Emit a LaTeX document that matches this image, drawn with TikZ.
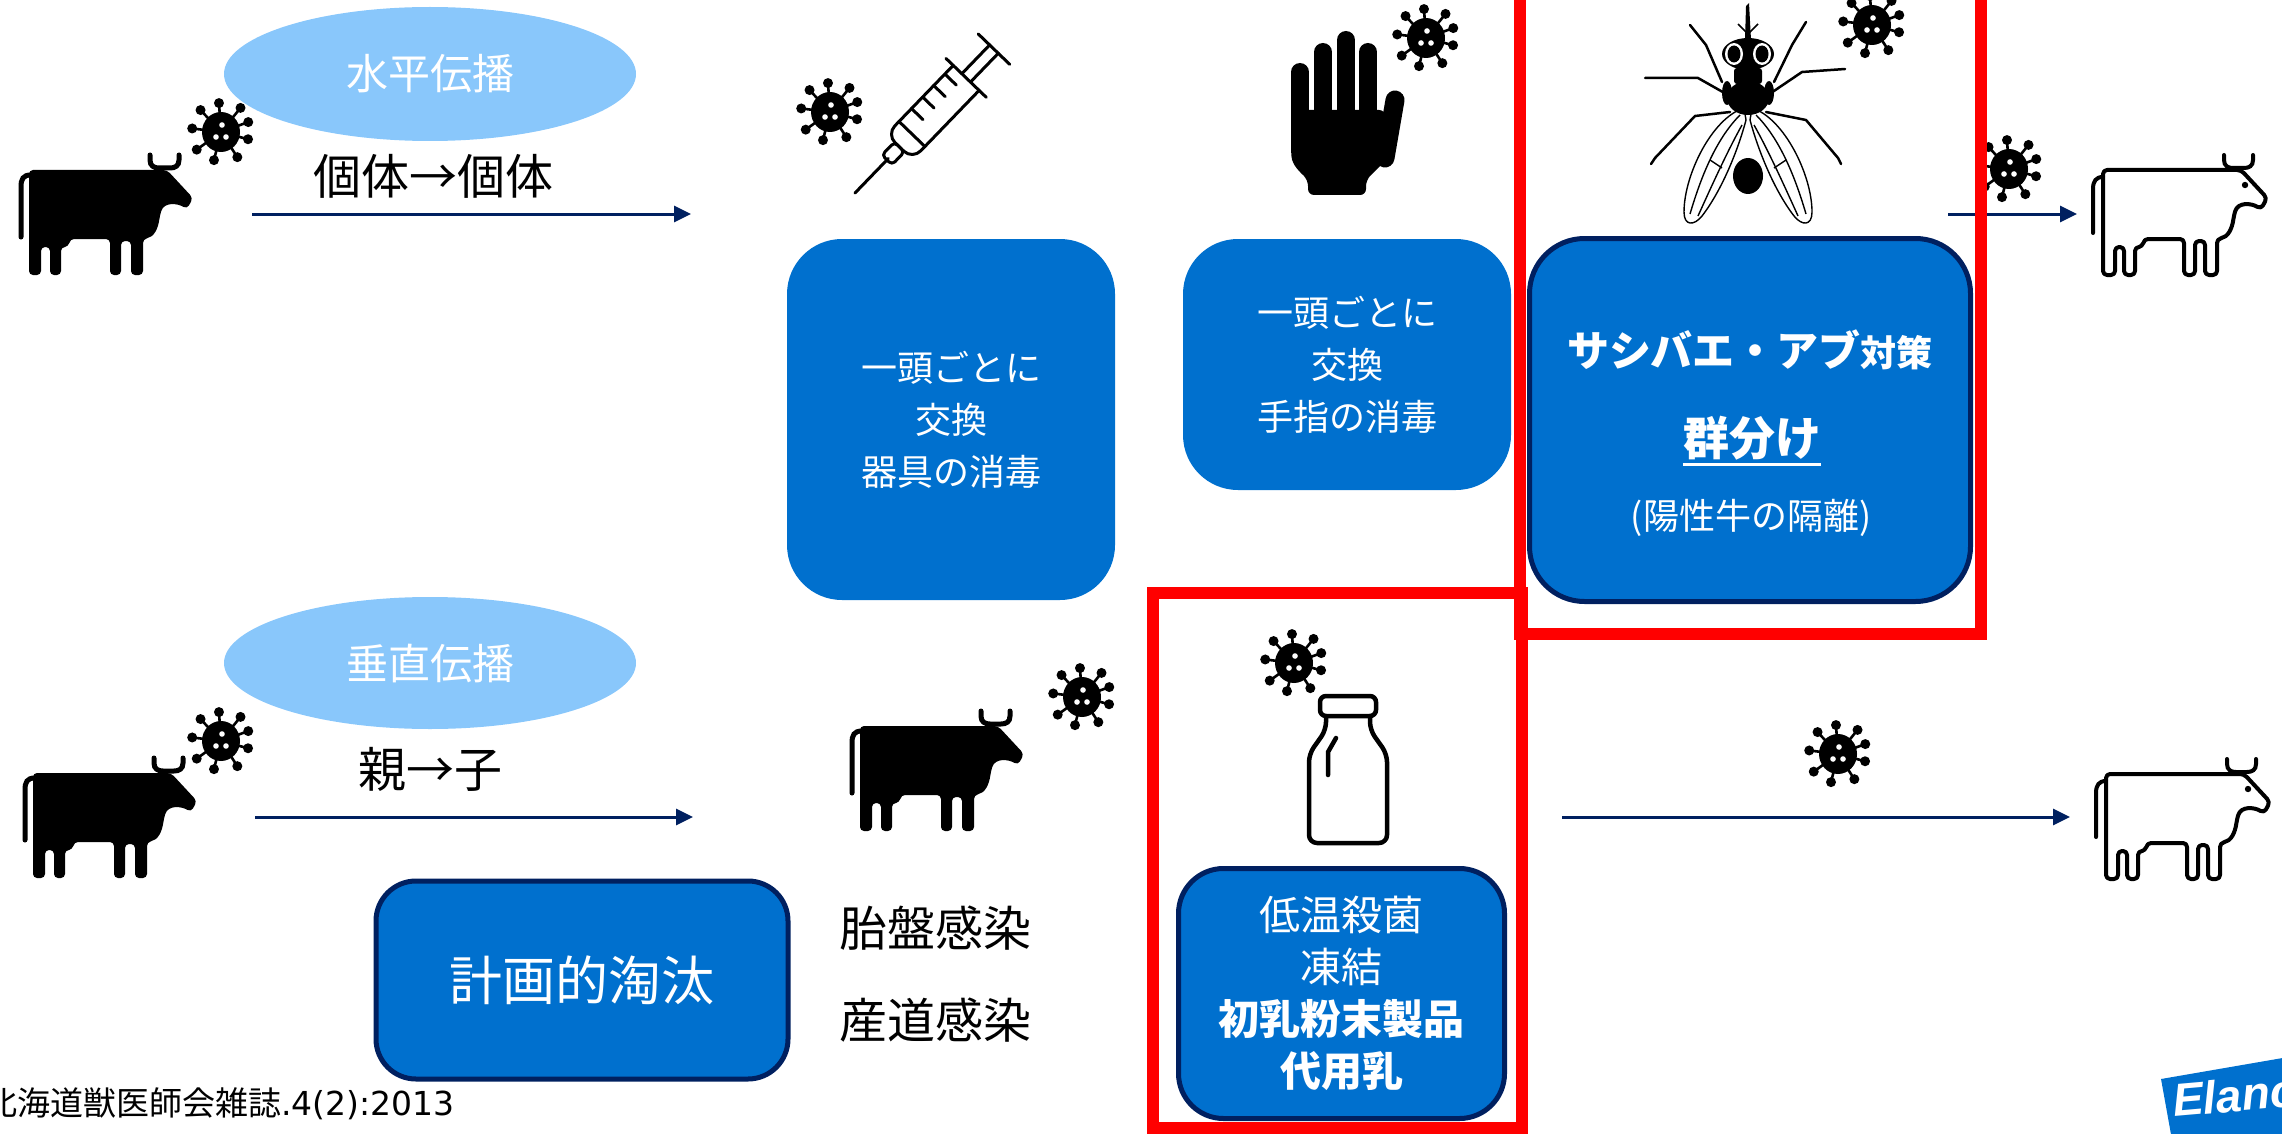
\documentclass[tikz,border=0pt]{standalone}
\usepackage{fontspec}
\setmainfont{Noto Sans CJK JP}
\newfontfamily\logofont{Liberation Sans}
\newfontfamily\citelatin{DejaVu Sans}
\usetikzlibrary{arrows.meta,shapes.geometric}

\definecolor{boxblue}{RGB}{0,112,206}
\definecolor{navyline}{RGB}{0,32,96}
\definecolor{bubbleblue}{RGB}{137,199,251}
\definecolor{framered}{RGB}{255,0,0}
\newcommand\setfs[2]{\fontsize{#1}{#2}\selectfont}

\tikzset{
  % virus particle: round body, knobbed spikes, three pale spots
  virus/.pic={
    \fill (0,0) ellipse [x radius=19pt, y radius=20pt];
    \foreach \ang/\rad in {133/30,94/29,51/31,20/29,-15/28,-57/30,-104/29,-144/30,173/29}{
      \draw[line width=2.6pt] (0,0) -- (\ang:\rad pt);
      \fill (\ang:\rad pt) circle (5pt);
    }
    \fill[white] (1pt,7pt) circle (2.8pt);
    \fill[white] (-5pt,-5pt) circle (2.8pt);
    \fill[white] (5pt,-5pt) circle (2.8pt);
  },
  % cow body outline shared by both cow icons (local units, y downward)
  cowbody/.style={insert path={
    (12,17) -- (150,17) -- (176,45) -- (170,56)
    .. controls (160,50) and (147,49) .. (143,62)
    .. controls (141,76) and (137,84) .. (126,86)
    -- (126,122) -- (114,122) -- (114,88) -- (104,88) -- (104,122) -- (93,122) -- (93,86)
    -- (53,86) .. controls (52,92) and (49,94) .. (44,94)
    -- (44,122) -- (33,122) -- (33,94) -- (24,94) -- (24,122) -- (12,122) -- cycle}},
  cowsolid/.pic={
    \fill[rounded corners=4pt, cowbody];
    \draw[line width=5pt, line cap=round] (133,2) -- (133,7) .. controls (133,13) and (137,15) .. (142,15)
      -- (153,15) .. controls (158,15) and (162,13) .. (162,7) -- (162,2);
    \draw[line width=5pt, line cap=round] (14,22) .. controls (6,22) and (4,26) .. (4,34) -- (4,84);
  },
  cowline/.pic={
    \draw[line width=4pt, fill=white, rounded corners=4pt, line join=round, cowbody];
    \draw[line width=4pt, line cap=round] (133,2) -- (133,7) .. controls (133,13) and (137,15) .. (142,15)
      -- (153,15) .. controls (158,15) and (162,13) .. (162,7) -- (162,2);
    \draw[line width=4pt, line cap=round] (12,24) .. controls (5,24) and (2,28) .. (2,36) -- (2,80);
    \fill (154,32) circle (3.2pt);
  }
}

\begin{document}
\begin{tikzpicture}[x=1pt,y=-1pt,
  every node/.style={inner sep=0pt},
  bubble/.style={ellipse, fill=bubbleblue, text=white, font=\setfs{42}{50}},
  flowarrow/.style={draw=navyline, line width=3pt, -{Triangle[length=17pt,width=16pt]}},
  plainlabel/.style={text=black, font=\setfs{48}{56}},
  bluebox/.style={fill=boxblue, rounded corners=55pt, text=white, align=center, font=\setfs{36}{52}},
  edgedbox/.style={bluebox, draw=navyline, line width=5pt},
  redframe/.style={draw=framered, line width=12pt},
  icon/.style={line width=3pt, line cap=round, line join=round}
]
\path[use as bounding box] (0,0) rectangle (2282,1134);
\clip (0,0) rectangle (2282,1134);

% ---------- horizontal transmission row ----------
\node[bubble, minimum width=412pt, minimum height=134pt] (hbubble) at (430,74) {水平伝播};
\node[plainlabel] (hlabel) at (433,176) {個体→個体};
\coordinate (hstart) at (252,214);
\coordinate (hend) at (691,214);
\draw[flowarrow] (hstart) -- (hend);
\pic (cowA) at (17,153) {cowsolid};
\pic (virA) at (221,132) {virus};

% syringe
\pic (virB) at (830,112) {virus};
\begin{scope}[shift={(855,193)}, rotate=46, icon]
  \draw (0pt,0pt) -- (48pt,0pt);
  \draw[rounded corners=4pt] (46pt,-7pt) rectangle (64pt,7pt);
  \draw[rounded corners=12pt] (160pt,18pt) -- (64pt,18pt) -- (64pt,-18pt) -- (160pt,-18pt);
  \draw (82pt,-18pt) -- (82pt,18pt);
  \foreach \u in {100,116,132,148}{\draw (\u pt,18pt) -- (\u pt,2pt);}
  \draw (160pt,-28pt) -- (160pt,28pt);
  \draw (160pt,-6pt) -- (200pt,-6pt);
  \draw (160pt,6pt) -- (200pt,6pt);
  \draw (200pt,-22pt) -- (200pt,22pt);
\end{scope}

% hand
\pic (virC) at (1426,38) {virus};
\foreach \fx/\ft in {1300/72,1323/52,1346/40,1368/52}{
  \draw[line width=18pt, line cap=round] (\fx,\ft) -- (\fx,125);
}
\draw[line width=19pt, line cap=round] (1395,100) -- (1385,158);
\fill[rounded corners=6pt] (1291,110) -- (1291,150) .. controls (1292,165) and (1300,172) .. (1308,180)
  -- (1308,195) -- (1366,195) -- (1366,180) -- (1391,155) -- (1385,110) -- cycle;

% fly
\begin{scope}[line width=2.5pt, line join=round, line cap=round]
  \draw (1722,82) -- (1706,45) -- (1690,25);
  \draw (1774,82) -- (1792,45) -- (1806,22);
  \draw (1728,95) -- (1698,78) -- (1645,78);
  \draw (1768,95) -- (1802,72) -- (1845,69);
  \draw (1730,112) -- (1695,116) -- (1655,158) -- (1651,164);
  \draw (1766,112) -- (1806,120) -- (1838,158) -- (1841,164);
\end{scope}
\begin{scope}[line width=1.4pt, line join=round]
  \draw[fill=white] (1744,108) .. controls (1712,118) and (1684,175) .. (1684,212)
    .. controls (1684,226) and (1694,226) .. (1702,216)
    .. controls (1722,190) and (1738,150) .. (1746,120) -- cycle;
  \draw (1740,115) .. controls (1715,140) and (1700,180) .. (1690,214);
  \draw (1742,125) .. controls (1728,150) and (1712,185) .. (1698,216);
  \draw (1710,160) -- (1722,168);
  \draw[fill=white] (1752,108) .. controls (1784,118) and (1812,175) .. (1812,212)
    .. controls (1812,226) and (1802,226) .. (1794,216)
    .. controls (1774,190) and (1758,150) .. (1750,120) -- cycle;
  \draw (1756,115) .. controls (1781,140) and (1796,180) .. (1806,214);
  \draw (1754,125) .. controls (1768,150) and (1784,185) .. (1798,216);
  \draw (1786,160) -- (1774,168);
\end{scope}
\fill (1748,176) ellipse [x radius=15pt, y radius=18pt];
\fill (1748,98) ellipse [x radius=21pt, y radius=17pt];
\fill (1727,93) ellipse [x radius=5pt, y radius=12pt];
\fill (1769,93) ellipse [x radius=5pt, y radius=12pt];
\fill[rounded corners=3pt] (1734,68) rectangle (1762,84);
\fill (1748,54) ellipse [x radius=26pt, y radius=16pt];
\fill[white] (1734,54) ellipse [x radius=9pt, y radius=11pt];
\fill (1734,54) ellipse [x radius=6.5pt, y radius=8.5pt];
\fill[white] (1762,54) ellipse [x radius=9pt, y radius=11pt];
\fill (1762,54) ellipse [x radius=6.5pt, y radius=8.5pt];
\fill (1745,40) -- (1746,6) -- (1749,3) -- (1751,40) -- cycle;
\draw[line width=1.5pt] (1748,34) -- (1738,24) (1748,34) -- (1758,24);
\pic (virD) at (1872,25) {virus};

% receiving cow, top
\pic (virE) at (2009,169) {virus};
\coordinate (tstart) at (1948,214);
\coordinate (tend) at (2077,214);
\draw[flowarrow] (tstart) -- (tend);
\pic (cowB) at (2091,153) {cowline};

% countermeasure boxes, top
\node[bluebox, minimum width=328pt, minimum height=361pt] (boxA) at (951,419.5)
  {一頭ごとに\\交換\\器具の消毒};
\node[bluebox, minimum width=328pt, minimum height=251pt] (boxB) at (1347,364.5)
  {一頭ごとに\\交換\\手指の消毒};
\node[edgedbox, minimum width=441pt, minimum height=363pt] (boxC) at (1750,420) {};
\node[text=white, font=\bfseries\setfs{42}{50}] (flyline) at (1750,350)
  {サシバエ・アブ{\setfs{36}{50}対策}};
\node[text=white, font=\bfseries\setfs{46}{54}] (groupline) at (1752,438) {群分け};
\draw[white, line width=3pt] ([yshift=-9pt]groupline.base west) -- ([yshift=-9pt]groupline.base east);
\node[text=white, font=\setfs{36}{44}] (isoline) at (1751,518) {(陽性牛の隔離)};

% ---------- vertical transmission row ----------
\node[bubble, minimum width=412pt, minimum height=132pt] (vbubble) at (430,663) {垂直伝播};
\node[plainlabel] (vlabel) at (430,769) {親→子};
\coordinate (vstart) at (255,817);
\coordinate (vend) at (693,817);
\draw[flowarrow] (vstart) -- (vend);
\pic (cowC) at (21,756) {cowsolid};
\pic (virF) at (221,741) {virus};

\node[edgedbox, rounded corners=40pt, minimum width=412pt, minimum height=198pt,
  font=\setfs{53}{60}] (boxD) at (582,980) {計画的淘汰};

\pic (cowD) at (848,709) {cowsolid};
\pic (virG) at (1082,697) {virus};
\node[plainlabel] (placenta) at (935,928) {胎盤感染};
\node[plainlabel] (birthcanal) at (935,1020) {産道感染};

% milk bottle
\pic (virH) at (1294,663) {virus};
\begin{scope}[line width=4.5pt, line join=round, line cap=round]
  \draw[rounded corners=8pt] (1326,716) -- (1326,730) -- (1309,754) -- (1309,843) -- (1387,843)
    -- (1387,754) -- (1370,730) -- (1370,716);
  \draw[rounded corners=6pt] (1320,696) rectangle (1376,716);
  \draw (1336,738) -- (1328,752) -- (1328,775);
\end{scope}
\node[edgedbox, rounded corners=45pt, minimum width=326pt, minimum height=250pt, font=\setfs{41}{52}]
  (boxE) at (1341.5,993.5) {低温殺菌\\凍結\\{\bfseries 初乳粉末製品}\\{\bfseries 代用乳}};

% receiving cow, bottom
\pic (virI) at (1838,754) {virus};
\coordinate (bstart) at (1562,817);
\coordinate (bend) at (2070,817);
\draw[flowarrow] (bstart) -- (bend);
\pic (cowE) at (2094,757) {cowline};

% ---------- highlight frames ----------
\draw[redframe] (1520,-30) rectangle (1981,634);
\draw[redframe] (1153,593) rectangle (1522,1128);

% ---------- footer ----------
\node[anchor=west, font=\setfs{33}{38}] (cite) at (-16,1104) {北海道獣医師会雑誌{\citelatin .4(2):2013}};
\fill[boxblue] (2161,1079) -- (2300,1055) -- (2314,1140) -- (2172,1140) -- cycle;
\node[anchor=base west, rotate=5, text=white, font=\logofont\bfseries\itshape\setfs{46}{46}]
  (logo) at (2174,1117) {Elanco};
\end{tikzpicture}
\end{document}
